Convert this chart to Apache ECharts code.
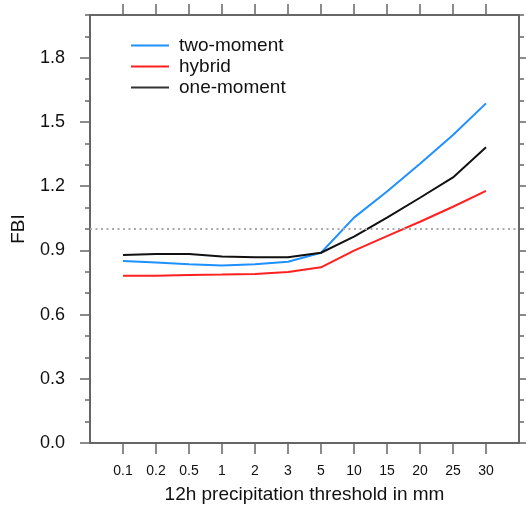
<!DOCTYPE html>
<html>
<head>
<meta charset="utf-8">
<script src="https://cdn.jsdelivr.net/npm/echarts@6/dist/echarts.min.js"></script>
<style>
  html, body { margin: 0; padding: 0; background: #fff; }
  #main { width: 526px; height: 506px; }
</style>
</head>
<body>
<div id="main"></div>
<script>
// thresholds (mm) on the x axis, placed at 1..12
var thresholds = ['0.1', '0.2', '0.5', '1', '2', '3', '5', '10', '15', '20', '25', '30'];
var twoMoment = [0.850, 0.844, 0.835, 0.829, 0.835, 0.847, 0.889, 1.053, 1.175, 1.305, 1.439, 1.587];
var hybrid    = [0.782, 0.782, 0.785, 0.787, 0.790, 0.799, 0.821, 0.899, 0.967, 1.034, 1.104, 1.178];
var oneMoment = [0.879, 0.883, 0.883, 0.871, 0.868, 0.868, 0.889, 0.964, 1.053, 1.146, 1.241, 1.382];
var yMajor = [0, 0.3, 0.6, 0.9, 1.2, 1.5, 1.8];

var xPos = thresholds.map(function (t, i) { return i + 1; });
function pairs(arr) {
  return arr.map(function (v, i) { return [xPos[i], v]; });
}

var font = 'Liberation Sans, Arial, Helvetica, sans-serif';
var frame = '#666';

var myChart = echarts.init(document.getElementById('main'));

function xAx(pos, labels) {
  return {
    type: 'value', position: pos, min: 0, max: 13,
    axisLine: { show: true, onZero: false, lineStyle: { color: frame, width: 2 } },
    axisTick: { show: true, inside: false, length: 11, customValues: xPos, lineStyle: { color: frame, width: 1.5 } },
    axisLabel: {
      show: labels, customValues: xPos, margin: 21,
      fontSize: 14, fontFamily: font, color: '#111',
      formatter: function (v) { return thresholds[Math.round(v) - 1] || ''; }
    },
    splitLine: { show: false },
    name: labels ? '12h precipitation threshold in mm' : '',
    nameLocation: 'middle', nameGap: 42,
    nameTextStyle: { fontSize: 19, fontFamily: font, color: '#111' }
  };
}

function yAx(pos, major, labels) {
  var a = {
    type: 'value', position: pos, min: 0, max: 2,
    axisLine: { show: true, onZero: false, lineStyle: { color: frame, width: 2 } },
    axisTick: { show: true, inside: false, length: major ? 10 : 5, lineStyle: { color: frame, width: 1.5 } },
    axisLabel: { show: false },
    splitLine: { show: false }
  };
  if (major) {
    a.axisTick.customValues = yMajor;
    a.axisLabel = {
      show: labels, customValues: yMajor, margin: 25,
      fontSize: 18, fontFamily: font, color: '#111',
      formatter: function (v) { return v.toFixed(1); }
    };
  } else {
    a.interval = 0.1;
  }
  if (labels) {
    a.name = 'FBI';
    a.nameLocation = 'middle';
    a.nameGap = 62;
    a.nameTextStyle = { fontSize: 19, fontFamily: font, color: '#111' };
  }
  return a;
}

var option = {
  animation: false,
  grid: { left: 90, right: 7, top: 15, bottom: 63, containLabel: false, outerBoundsMode: 'none' },
  legend: {
    orient: 'vertical', left: 131, top: 35, padding: 0,
    icon: 'rect', itemWidth: 38, itemHeight: 2, itemGap: 0,
    data: ['two-moment', 'hybrid', 'one-moment'],
    textStyle: { fontSize: 19, fontFamily: font, color: '#111', lineHeight: 21, padding: [0, 0, 0, 5] }
  },
  xAxis: [xAx('bottom', true), xAx('top', false)],
  yAxis: [yAx('left', false, false), yAx('left', true, true), yAx('right', false, false), yAx('right', true, false)],
  series: [
    {
      name: 'two-moment', type: 'line', data: pairs(twoMoment),
      symbol: 'none', lineStyle: { color: '#1e90ff', width: 2 }, itemStyle: { color: '#1e90ff' },
      markLine: {
        silent: true, symbol: 'none', label: { show: false },
        lineStyle: { color: '#aaa', width: 2, type: [2, 3.5] },
        data: [{ yAxis: 1 }]
      }
    },
    {
      name: 'hybrid', type: 'line', data: pairs(hybrid),
      symbol: 'none', lineStyle: { color: '#ff2020', width: 2 }, itemStyle: { color: '#ff2020' }
    },
    {
      name: 'one-moment', type: 'line', data: pairs(oneMoment),
      symbol: 'none', lineStyle: { color: '#111', width: 2 }, itemStyle: { color: '#333' }
    }
  ]
};

myChart.setOption(option);
</script>
</body>
</html>
